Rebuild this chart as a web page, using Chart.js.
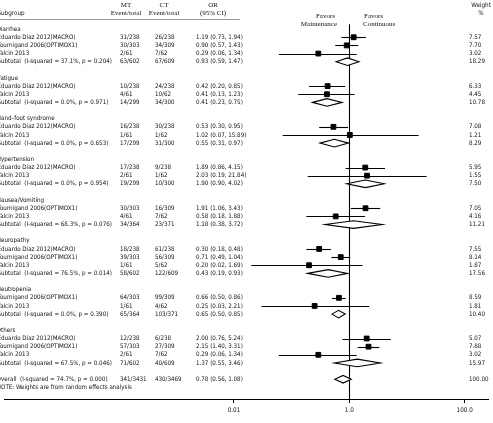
<!DOCTYPE html>
<html>
<head>
<meta charset="utf-8">
<script src="https://cdn.jsdelivr.net/npm/chart.js@4.4.1/dist/chart.umd.min.js"></script>
<style>
  html, body { margin: 0; padding: 0; background: #fff; }
  #wrap { width: 493px; height: 423px; }
</style>
</head>
<body>
<div id="wrap"><canvas id="forest" width="493" height="423"></canvas></div>
<script>
// one entry per row, top to bottom (blank rows kept so spacing matches)
const rowLabels = [
  'Diarrhea',
  'Eduardo Diaz 2012(MACRO)',
  'Tournigand 2006(OPTIMOX1)',
  'Yalcin 2013',
  'Subtotal  (I-squared = 37.1%, p = 0.204)',
  '',
  'Fatigue',
  'Eduardo Diaz 2012(MACRO)',
  'Yalcin 2013',
  'Subtotal  (I-squared = 0.0%, p = 0.971)',
  '',
  'Hand\u2013foot syndrome',
  'Eduardo Diaz 2012(MACRO)',
  'Yalcin 2013',
  'Subtotal  (I-squared = 0.0%, p = 0.653)',
  '',
  'Hypertension',
  'Eduardo Diaz 2012(MACRO)',
  'Yalcin 2013',
  'Subtotal  (I-squared = 0.0%, p = 0.954)',
  '',
  'Nausea/Vomiting',
  'Tournigand 2006(OPTIMOX1)',
  'Yalcin 2013',
  'Subtotal  (I-squared = 68.3%, p = 0.076)',
  '',
  'Neuropathy',
  'Eduardo Diaz 2012(MACRO)',
  'Tournigand 2006(OPTIMOX1)',
  'Yalcin 2013',
  'Subtotal  (I-squared = 76.5%, p = 0.014)',
  '',
  'Neutropenia',
  'Tournigand 2006(OPTIMOX1)',
  'Yalcin 2013',
  'Subtotal  (I-squared = 0.0%, p = 0.390)',
  '',
  'Others',
  'Eduardo Diaz 2012(MACRO)',
  'Tournigand 2006(OPTIMOX1)',
  'Yalcin 2013',
  'Subtotal  (I-squared = 67.5%, p = 0.046)',
  '',
  'Overall  (I-squared = 74.7%, p = 0.000)',
  'NOTE: Weights are from random effects analysis'
];

const rowKinds = [
  'group', 'study', 'study', 'study', 'sub', 'blank',
  'group', 'study', 'study', 'sub', 'blank',
  'group', 'study', 'study', 'sub', 'blank',
  'group', 'study', 'study', 'sub', 'blank',
  'group', 'study', 'study', 'sub', 'blank',
  'group', 'study', 'study', 'study', 'sub', 'blank',
  'group', 'study', 'study', 'sub', 'blank',
  'group', 'study', 'study', 'study', 'sub', 'blank',
  'overall', 'note'
];

const mtEvents = [
  null, '31/238', '30/303', '2/61', '63/602', null,
  null, '10/238', '4/61', '14/299', null,
  null, '16/238', '1/61', '17/299', null,
  null, '17/238', '2/61', '19/299', null,
  null, '30/303', '4/61', '34/364', null,
  null, '18/238', '39/303', '1/61', '58/602', null,
  null, '64/303', '1/61', '65/364', null,
  null, '12/238', '57/303', '2/61', '71/602', null,
  '341/3431', null
];

const ctEvents = [
  null, '26/238', '34/309', '7/62', '67/609', null,
  null, '24/238', '10/62', '34/300', null,
  null, '30/238', '1/62', '31/300', null,
  null, '9/238', '1/62', '10/300', null,
  null, '16/309', '7/62', '23/371', null,
  null, '61/238', '56/309', '5/62', '122/609', null,
  null, '99/309', '4/62', '103/371', null,
  null, '6/238', '27/309', '7/62', '40/609', null,
  '430/3469', null
];

const orEst = [
  null, 1.19, 0.90, 0.29, 0.93, null,
  null, 0.42, 0.41, 0.41, null,
  null, 0.53, 1.02, 0.55, null,
  null, 1.89, 2.03, 1.90, null,
  null, 1.91, 0.58, 1.18, null,
  null, 0.30, 0.71, 0.20, 0.43, null,
  null, 0.66, 0.25, 0.65, null,
  null, 2.00, 2.15, 0.29, 1.37, null,
  0.78, null
];

const ciLow = [
  null, 0.73, 0.57, 0.06, 0.59, null,
  null, 0.20, 0.13, 0.23, null,
  null, 0.30, 0.07, 0.31, null,
  null, 0.86, 0.19, 0.90, null,
  null, 1.06, 0.18, 0.38, null,
  null, 0.18, 0.49, 0.02, 0.19, null,
  null, 0.50, 0.03, 0.50, null,
  null, 0.76, 1.40, 0.06, 0.55, null,
  0.56, null
];

const ciHigh = [
  null, 1.94, 1.43, 1.34, 1.47, null,
  null, 0.85, 1.23, 0.75, null,
  null, 0.95, 15.89, 0.97, null,
  null, 4.15, 21.84, 4.02, null,
  null, 3.43, 1.88, 3.72, null,
  null, 0.48, 1.04, 1.69, 0.93, null,
  null, 0.86, 2.21, 0.85, null,
  null, 5.24, 3.31, 1.34, 3.46, null,
  1.08, null
];

const weightPct = [
  null, 7.57, 7.70, 3.02, 18.29, null,
  null, 6.33, 4.45, 10.78, null,
  null, 7.08, 1.21, 8.29, null,
  null, 5.95, 1.55, 7.50, null,
  null, 7.05, 4.16, 11.21, null,
  null, 7.55, 8.14, 1.87, 17.56, null,
  null, 8.59, 1.81, 10.40, null,
  null, 5.07, 7.88, 3.02, 15.97, null,
  100.00, null
];

const xTicks = [0.01, 1, 100];
const xTickLabels = ['0.01', '1.0', '100.0'];

const sans = '"Liberation Sans Narrow", "DejaVu Sans Condensed", "Liberation Sans", sans-serif';
const serif = '"Liberation Serif", "DejaVu Serif", serif';
const ink = '#111';

// squares for the single studies
const studyPoints = [];
rowKinds.forEach((k, i) => {
  if (k === 'study') studyPoints.push({ x: orEst[i], y: i });
});

const fmt = v => v.toFixed(2);

const forestMarks = {
  id: 'forestMarks',
  beforeDatasetsDraw(chart) {
    const ctx = chart.ctx;
    const xs = chart.scales.x;
    const ys = chart.scales.y;
    ctx.save();
    ctx.strokeStyle = '#000';
    ctx.lineWidth = 1.1;

    // line of no effect
    const x1 = Math.round(xs.getPixelForValue(1)) + 0.5;
    ctx.beginPath();
    ctx.moveTo(x1, ys.getPixelForValue(-0.6));
    ctx.lineTo(x1, chart.chartArea.bottom);
    ctx.stroke();

    rowKinds.forEach((k, i) => {
      const y = ys.getPixelForValue(i);
      if (k === 'study') {
        ctx.beginPath();
        ctx.moveTo(xs.getPixelForValue(ciLow[i]), Math.round(y) + 0.5);
        ctx.lineTo(xs.getPixelForValue(ciHigh[i]), Math.round(y) + 0.5);
        ctx.stroke();
      } else if (k === 'sub' || k === 'overall') {
        const half = 3.8;
        ctx.beginPath();
        ctx.moveTo(xs.getPixelForValue(ciLow[i]), y);
        ctx.lineTo(xs.getPixelForValue(orEst[i]), y - half);
        ctx.lineTo(xs.getPixelForValue(ciHigh[i]), y);
        ctx.lineTo(xs.getPixelForValue(orEst[i]), y + half);
        ctx.closePath();
        ctx.fillStyle = '#fff';
        ctx.fill();
        ctx.stroke();
      }
    });
    ctx.restore();
  },
  afterDraw(chart) {
    const ctx = chart.ctx;
    const ys = chart.scales.y;
    ctx.save();
    ctx.textBaseline = 'middle';
    ctx.fillStyle = ink;

    // header
    ctx.font = '6.3px ' + sans;
    ctx.textAlign = 'left';
    const sub = 'Subgroup';
    ctx.fillText(sub, 1 - ctx.measureText(sub[0]).width, 13);

    ctx.font = '7px ' + serif;
    ctx.textAlign = 'center';
    ctx.fillText('MT', 126, 5);
    ctx.fillText('Event/total', 126, 13);
    ctx.fillText('CT', 164, 5);
    ctx.fillText('Event/total', 164, 13);
    ctx.fillText('OR', 213, 5);
    ctx.fillText('(95% CI)', 213, 13);

    ctx.textAlign = 'right';
    ctx.fillText('Favors', 335, 16);
    ctx.fillText('Maintenance', 337, 24);
    ctx.textAlign = 'left';
    ctx.fillText('Favors', 364, 16);
    ctx.fillText('Continuous', 363, 24);

    ctx.font = '6.3px ' + sans;
    ctx.textAlign = 'center';
    ctx.fillText('Weight', 481, 5);
    ctx.fillText('%', 481, 13);

    // rule under the column heads
    ctx.strokeStyle = '#9a9a9a';
    ctx.lineWidth = 1;
    ctx.beginPath();
    ctx.moveTo(0, 19.5);
    ctx.lineTo(240, 19.5);
    ctx.stroke();

    // table rows
    ctx.font = '6.2px ' + sans;
    ctx.textAlign = 'left';
    rowLabels.forEach((label, i) => {
      if (!label) return;
      const y = ys.getPixelForValue(i);
      // first letter falls just outside the left edge, as in the source figure
      ctx.fillText(label, 1 - ctx.measureText(label[0]).width, y);
      if (mtEvents[i]) ctx.fillText(mtEvents[i], 120, y);
      if (ctEvents[i]) ctx.fillText(ctEvents[i], 155, y);
      if (orEst[i] != null) {
        ctx.fillText(fmt(orEst[i]) + ' (' + fmt(ciLow[i]) + ', ' + fmt(ciHigh[i]) + ')', 196, y);
        ctx.fillText(fmt(weightPct[i]), 469, y);
      }
    });
    ctx.restore();
  }
};

new Chart(document.getElementById('forest'), {
  type: 'scatter',
  data: {
    datasets: [{
      data: studyPoints,
      pointStyle: 'rect',
      pointRadius: 3.4,
      pointHoverRadius: 3.4,
      backgroundColor: '#000',
      borderColor: '#000',
      borderWidth: 1
    }]
  },
  options: {
    responsive: false,
    animation: false,
    devicePixelRatio: 1,
    layout: { padding: { left: 0, right: 1, top: 0, bottom: 0 } },
    plugins: { legend: { display: false }, tooltip: { enabled: false } },
    scales: {
      x: {
        type: 'logarithmic',
        min: 1.045e-6,
        max: 260,
        bounds: 'data',
        afterBuildTicks: scale => { scale.ticks = xTicks.map(v => ({ value: v })); },
        afterFit: scale => { scale.height = 24; },
        ticks: {
          autoSkip: false,
          maxRotation: 0,
          padding: 4,
          color: ink,
          font: { family: sans, size: 6.3 },
          callback: value => xTickLabels[xTicks.indexOf(value)]
        },
        grid: { drawOnChartArea: false, drawTicks: true, tickLength: 4, color: '#000' },
        border: { display: true, color: '#000', width: 1 }
      },
      y: {
        type: 'linear',
        reverse: true,
        min: -3.037,
        max: 45.427,
        display: false
      }
    }
  },
  plugins: [forestMarks]
});
</script>
</body>
</html>
